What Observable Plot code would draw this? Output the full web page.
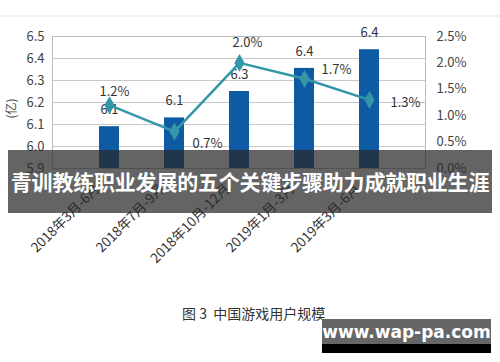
<!DOCTYPE html>
<html><head><meta charset="utf-8">
<script src="https://cdn.jsdelivr.net/npm/d3@7"></script>
<script src="https://cdn.jsdelivr.net/npm/@observablehq/plot@0.6"></script>
<style>
body{margin:0;background:#fff;font-family:"Noto Sans CJK SC","Noto Sans",sans-serif;}
#wrap{position:relative;width:500px;height:362px;overflow:hidden;}
#chart{position:absolute;left:0;top:0;}
#topline{position:absolute;left:0;top:15px;width:500px;height:2px;background:#eef1f6;}
#banner{position:absolute;left:8px;top:150px;width:484px;height:63px;background:rgba(40,40,40,0.72);color:#fff;font-weight:bold;font-size:21px;line-height:63px;text-align:center;white-space:nowrap;letter-spacing:-0.2px;}
#caption{position:absolute;left:182px;top:303px;font-size:14px;color:#333;white-space:nowrap;}
#wm{position:absolute;left:322px;top:319px;width:169px;height:34px;background:#666;}
#wm .bar{position:absolute;left:0;bottom:0;width:169px;height:9px;background:#000;}
#wm .t{position:absolute;left:0;top:2px;width:169px;text-align:center;color:#fff;font-weight:bold;font-size:17px;line-height:22px;white-space:nowrap;font-family:"DejaVu Sans",sans-serif;}
</style></head>
<body><div id="wrap"><div id="topline"></div><div id="chart"></div>
<div id="banner">青训教练职业发展的五个关键步骤助力成就职业生涯</div>
<div id="caption">图 3&nbsp; 中国游戏用户规模</div>
<div id="wm"><div class="bar"></div><div class="t">www.wap-pa.com</div></div>
</div>
<script>
const categories = ["2018年3月-6月","2018年7月-9月","2018年10月-12月","2019年1月-3月","2019年3月-6月"];
const users = [6.09, 6.13, 6.25, 6.355, 6.44];
const userLabels = ["6.1","6.1","6.3","6.4","6.4"];
const growth = [1.2, 0.7, 2.0, 1.7, 1.3];
const growthLabels = ["1.2%","0.7%","2.0%","1.7%","1.3%"];
const leftTicks = [5.9,6.0,6.1,6.2,6.3,6.4,6.5];
const rightTicks = [0,0.5,1.0,1.5,2.0,2.5];

const yMin = 5.9, yMax = 6.5, pMax = 2.5;
const toLeft = p => yMin + p / pMax * (yMax - yMin);

const data = categories.map((c,i)=>({c, u:users[i], ul:userLabels[i], g:toLeft(growth[i]), gl:growthLabels[i]}));
const lineLabelOffsets = [[5,-13],[33,12],[8,-20],[32,-9],[36,3]];

const font = '"Noto Sans CJK SC","Noto Sans",sans-serif';
const chart = Plot.plot({
  width: 500, height: 362,
  marginLeft: 52, marginRight: 75, marginTop: 36, marginBottom: 194,
  style: {fontFamily: font, background: "transparent", overflow: "visible"},
  x: {domain: categories, padding: 0.7, label: null},
  y: {domain: [yMin, yMax], label: null},
  marks: [
    Plot.ruleY(leftTicks, {stroke: "#c8c8c8", strokeWidth: 1}),
    Plot.frame({stroke: "#bbb"}),
    Plot.barY(data, {x: "c", y1: yMin, y2: "u", fill: "#0f5ba3"}),
    Plot.text(data, {x: "c", y: "u", text: "ul", dy: -17, fontSize: 13, fill: "#333"}),
    Plot.line(data, {x: "c", y: "g", stroke: "#3497a9", strokeWidth: 2.5}),
    Plot.dot(data, {x: "c", y: "g", symbol: "diamond", r: 4.5, fill: "#3497a9", stroke: "#3497a9"}),
    ...data.map((d,i) => Plot.text([d], {x: "c", y: "g", text: "gl", fontSize: 13, fill: "#333",
      dx: lineLabelOffsets[i][0], dy: lineLabelOffsets[i][1]})),
    Plot.axisY(leftTicks, {anchor: "left", tickSize: 0, tickPadding: 8, fontSize: 13, fill: "#444", tickFormat: d => d.toFixed(1)}),
    Plot.axisY(rightTicks.map(toLeft), {anchor: "right", tickSize: 0, tickPadding: 11, fontSize: 13, fill: "#444",
      tickFormat: d => ((d - yMin)/(yMax - yMin)*pMax).toFixed(1) + "%"}),
    Plot.axisX({tickRotate: -45, tickSize: 0, tickPadding: 18, dx: -12, fontSize: 13.5, fill: "#333"}),
    Plot.text(["(亿)"], {frameAnchor: "left", dx: -40, dy: 16, rotate: -90, fontSize: 12, fill: "#444"})
  ]
});
document.getElementById("chart").appendChild(chart);
</script>
</body></html>
